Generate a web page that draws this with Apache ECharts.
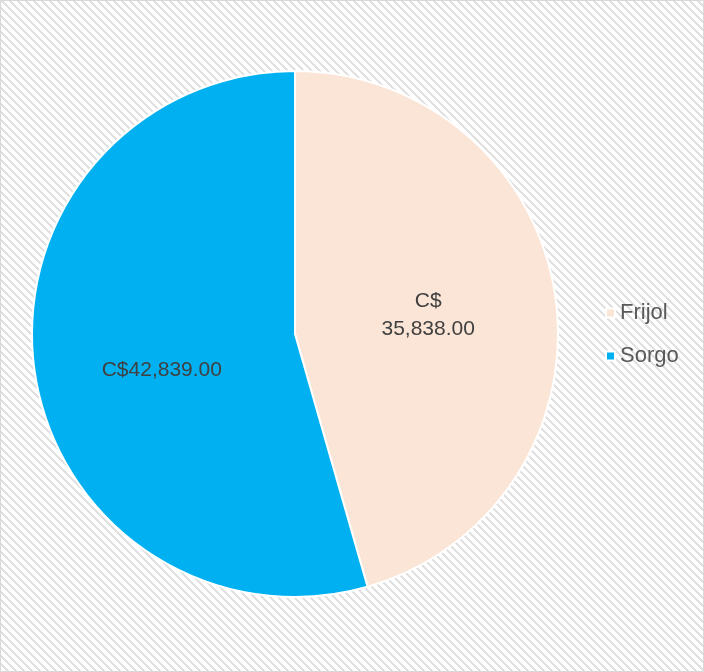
<!DOCTYPE html>
<html>
<head>
<meta charset="utf-8">
<script src="https://cdn.jsdelivr.net/npm/echarts@6/dist/echarts.min.js"></script>
<style>
  html, body { margin: 0; padding: 0; background: #fff; }
  #main { width: 704px; height: 672px; }
</style>
</head>
<body>
<div id="main"></div>
<script>
var categories = ['Frijol', 'Sorgo'];
var values = [35838, 42839];
var colors = ['#fbe5d6', '#00b0f0'];

// hatched background tile
var tile = document.createElement('canvas');
tile.width = 8;
tile.height = 8;
var ctx = tile.getContext('2d');
ctx.fillStyle = '#ffffff';
ctx.fillRect(0, 0, 8, 8);
ctx.fillStyle = '#e1e1e1';
for (var y = 0; y < 8; y++) {
    for (var k = 0; k < 3; k++) {
        ctx.fillRect((y + k) % 8, y, 1, 1);
    }
}

function money(v) {
    return 'C$' + v.toLocaleString('en-US', {minimumFractionDigits: 2, maximumFractionDigits: 2});
}

var pieData = categories.map(function (name, i) {
    var item = {name: name, value: values[i], itemStyle: {color: colors[i]}};
    if (i === 1) item.label = {offset: [0, 17]};
    return item;
});

var option = {
    backgroundColor: {image: tile, repeat: 'repeat'},
    animation: false,
    graphic: [{
        type: 'rect',
        shape: {x: 0.5, y: 0.5, width: 703, height: 671},
        style: {fill: 'none', stroke: '#d9d9d9', lineWidth: 1},
        silent: true
    }],
    legend: {
        orient: 'vertical',
        left: 600,
        top: 297,
        itemWidth: 9,
        itemHeight: 9,
        itemGap: 21,
        icon: 'rect',
        textStyle: {fontFamily: 'Liberation Sans', fontSize: 22, color: '#595959'},
        data: categories
    },
    series: [{
        type: 'pie',
        center: [295, 334],
        radius: 263,
        startAngle: 90,
        clockwise: true,
        itemStyle: {borderColor: '#ffffff', borderWidth: 2},
        label: {
            position: 'inner',
            fontFamily: 'Liberation Sans',
            fontSize: 21,
            color: '#404040',
            lineHeight: 28,
            formatter: function (p) {
                var s = money(p.value);
                return p.dataIndex === 0 ? s.replace('C$', 'C$\n') : s;
            }
        },
        labelLine: {show: false},
        data: pieData
    }]
};

var chart = echarts.init(document.getElementById('main'));
chart.setOption(option);
</script>
</body>
</html>
